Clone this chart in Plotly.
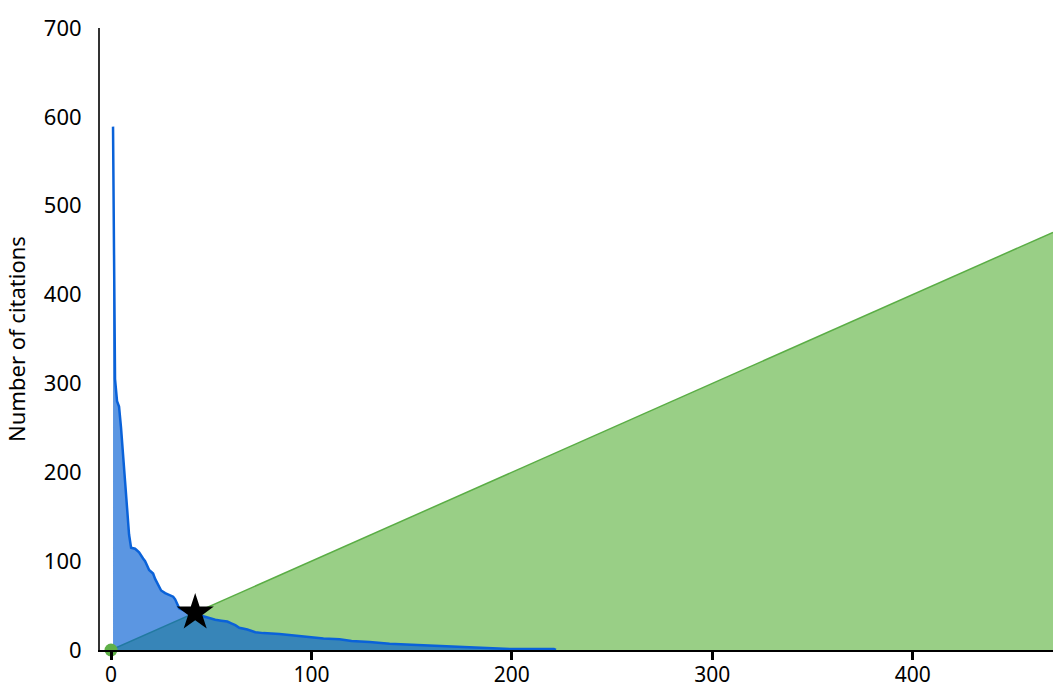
import plotly.graph_objects as go

# Paper rank (sorted by citations) and citation counts
ranks = [1, 2, 3, 4, 5, 6, 7, 8, 9, 10, 12, 13, 14, 16, 17, 18, 19, 20, 21, 22,
         23, 24, 25, 27, 28, 30, 31, 32, 33, 34, 36, 38, 40, 42, 44, 46, 49, 52,
         55, 58, 60, 62, 64, 68, 72, 76, 84, 92, 99, 106, 114, 120, 129, 139,
         150, 160, 170, 180, 190, 200, 210, 221, 222]
citations = [589, 305, 280, 274, 250, 215, 190, 160, 130, 115, 114, 112, 110, 103,
             100, 95, 90, 88, 86, 80, 75, 71, 67, 64, 63, 61, 60, 57, 52, 47, 45,
             44, 43, 42, 40, 38, 36, 34, 33, 32, 30, 28, 25, 23, 20, 19, 18, 16,
             14, 13, 12, 10, 9, 7, 6, 5, 4, 3, 2, 1, 1, 1, 0]

# Reference line y = x
diag_x = [0, 470]
diag_y = [0, 470]

h_index = 42
origin = [0]

x_ticks = [0, 100, 200, 300, 400]
y_ticks = [0, 100, 200, 300, 400, 500, 600, 700]

fig = go.Figure()

fig.add_trace(go.Scatter(
    x=diag_x, y=diag_y, mode="lines", fill="tozeroy",
    line=dict(color="#5aad45", width=1.5),
    fillcolor="#99cf86", hoverinfo="skip", showlegend=False))

fig.add_trace(go.Scatter(
    x=ranks, y=citations, mode="lines", fill="tozeroy",
    line=dict(color="#0a62d9", width=2.5),
    fillcolor="rgba(3,94,210,0.65)", showlegend=False))

fig.add_trace(go.Scatter(
    x=origin, y=origin, mode="markers",
    marker=dict(color="#5fb048", size=13), cliponaxis=False, showlegend=False))

fig.add_trace(go.Scatter(
    x=[h_index], y=[h_index], mode="markers",
    marker=dict(symbol="star", color="black", size=28), showlegend=False))

fig.update_layout(
    width=1053, height=689,
    margin=dict(l=100, r=0, t=28, b=39),
    paper_bgcolor="white", plot_bgcolor="white",
    font=dict(family="Noto Sans, Open Sans, sans-serif", size=18, color="black"),
    xaxis=dict(range=[-5.5, 470], tickvals=x_ticks, showgrid=False, zeroline=False,
               showline=True, linecolor="black", linewidth=2, automargin=False,
               ticks="outside", ticklen=8, tickwidth=3, tickcolor="black",
               tickfont=dict(size=21), ticklabelstandoff=-3),
    yaxis=dict(range=[0, 700], tickvals=y_ticks, showgrid=False, zeroline=False,
               showline=True, linecolor="#333333", linewidth=2, automargin=False,
               ticks="", ticklabelstandoff=12, tickfont=dict(size=22),
               title=dict(text="Number of citations", standoff=12, font=dict(size=22))),
)

fig.write_html("out.html", config={"displayModeBar": False},
               post_script="document.body.style.margin='0';document.body.style.overflow='hidden';")
